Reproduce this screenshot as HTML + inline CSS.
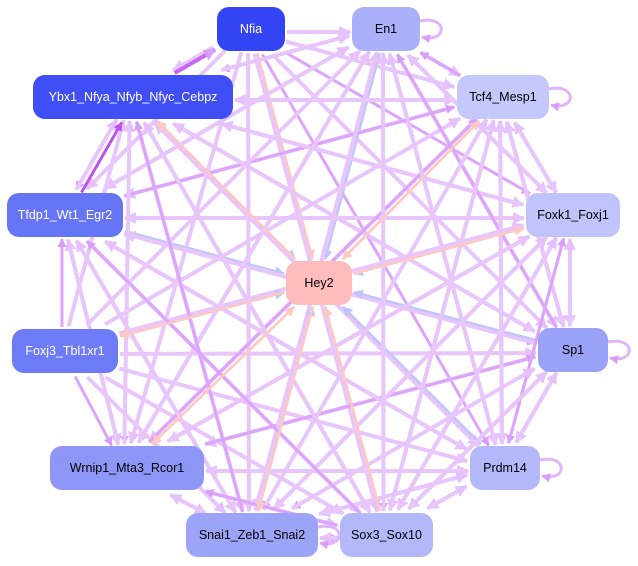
<!DOCTYPE html>
<html><head><meta charset="utf-8"><style>
html,body{margin:0;padding:0;background:#fff;width:638px;height:566px;overflow:hidden}
svg{display:block}
text{font-family:"Liberation Sans",sans-serif;font-size:12.5px;text-anchor:middle;dominant-baseline:central}
</style></head><body>
<svg id="s" width="638" height="566" xmlns="http://www.w3.org/2000/svg">
<defs>
<marker id="m1" viewBox="0 0 10 10" refX="9" refY="5" markerWidth="3" markerHeight="3" orient="auto"><path d="M0,0L10,5L0,10z" fill="#e6c2fc"/></marker>
<marker id="m2" viewBox="0 0 10 10" refX="9" refY="5" markerWidth="3" markerHeight="3" orient="auto"><path d="M0,0L10,5L0,10z" fill="#d89cfa"/></marker>
<marker id="m3" viewBox="0 0 10 10" refX="9" refY="5" markerWidth="3" markerHeight="3" orient="auto"><path d="M0,0L10,5L0,10z" fill="#c050f0"/></marker>
<marker id="m4" viewBox="0 0 10 10" refX="9" refY="5" markerWidth="4" markerHeight="4" orient="auto"><path d="M0,0L10,5L0,10z" fill="#c0c6fa"/></marker>
<marker id="m5" viewBox="0 0 10 10" refX="9" refY="5" markerWidth="4" markerHeight="4" orient="auto"><path d="M0,0L10,5L0,10z" fill="#ffc8c0"/></marker>
</defs>
<g id="edges"></g>
<g id="nodes"></g>
</svg>
<script>
var N={
Nfia:[217,7,68,44,"#3344f5","#fff"],
En1:[352,7,68,44,"#aab0fa","#000"],
Ybx1_Nfya_Nfyb_Nfyc_Cebpz:[33,75,200,44,"#3f4ef5","#fff"],
Tcf4_Mesp1:[457,75,92,44,"#c4c8fb","#000"],
Tfdp1_Wt1_Egr2:[7,193,116,44,"#6674f6","#fff"],
Foxk1_Foxj1:[526,193,94,44,"#c0c4fb","#000"],
Hey2:[286,261,66,44,"#ffbcbc","#000"],
Foxj3_Tbl1xr1:[12,329,106,44,"#6e7bf6","#fff"],
Sp1:[538,328,70,44,"#9aa2f8","#000"],
Wrnip1_Mta3_Rcor1:[50,446,154,44,"#8e97f7","#000"],
Prdm14:[470,446,70,44,"#b2b8f9","#000"],
Snai1_Zeb1_Snai2:[186,513,132,44,"#9ca4f7","#000"],
Sox3_Sox10:[340,513,93,44,"#b2b8fa","#000"]};
var names=Object.keys(N);
function c(n){var b=N[n];return [b[0]+b[2]/2,b[1]+b[3]/2];}
function clip(n,dx,dy){var b=N[n];var hw=b[2]/2+2,hh=b[3]/2+2;var t=Math.min(hw/Math.abs(dx||1e-9),hh/Math.abs(dy||1e-9));return t;}
var E=document.getElementById("edges"),NS="http://www.w3.org/2000/svg";
function edge(a,b,col,w,m,off){var p=c(a),q=c(b);var dx=q[0]-p[0],dy=q[1]-p[1];var L=Math.hypot(dx,dy);var nx=-dy/L*off,ny=dx/L*off;
var t1=clip(a,dx,dy),t2=clip(b,dx,dy);
var l=document.createElementNS(NS,"line");
l.setAttribute("x1",p[0]+dx*t1+nx);l.setAttribute("y1",p[1]+dy*t1+ny);
l.setAttribute("x2",q[0]-dx*t2+nx);l.setAttribute("y2",q[1]-dy*t2+ny);
l.setAttribute("stroke",col);l.setAttribute("stroke-width",w);l.setAttribute("marker-end","url(#"+m+")");E.appendChild(l);}
for(var i=0;i<names.length;i++)for(var j=0;j<names.length;j++){if(i==j)continue;var a=names[i],b=names[j];
if(a=="Hey2")continue;
if(b=="Hey2"){var h=(i%3==0)?["#ffc8c0","m5"]:["#c0c6fa","m4"];edge(a,b,h[0],2.5,h[1],0);continue;}
if((i*7+j*3)%7==0)continue;
var col="#e8c6fc",m="m1",w=4;
if((i+j*2)%5==0){col="#dca4fa";m="m2";w=3;}
edge(a,b,col,w,m,(i<j?3:-3));}
edge("Tfdp1_Wt1_Egr2","Ybx1_Nfya_Nfyb_Nfyc_Cebpz","#c050f0",3,"m3",3);
edge("Ybx1_Nfya_Nfyb_Nfyc_Cebpz","Nfia","#c868f2",4,"m2",0);
edge("Hey2","Tcf4_Mesp1","#ffc8c0",2.5,"m5",0);
edge("Hey2","Foxk1_Foxj1","#ffc8c0",2.5,"m5",0);
edge("Hey2","Foxj3_Tbl1xr1","#ffc8c0",2.5,"m5",0);
edge("Hey2","Wrnip1_Mta3_Rcor1","#ffc8c0",2.5,"m5",0);
edge("Hey2","Ybx1_Nfya_Nfyb_Nfyc_Cebpz","#ffc8c0",2.5,"m5",0);
edge("Hey2","Snai1_Zeb1_Snai2","#ffc8c0",2.5,"m5",0);
function loop(n){var b=N[n];var p=document.createElementNS(NS,"path");
var x=b[0]+b[2],y=b[1]+b[3]/2;var d="M"+x+","+(y-8)+" C"+(x+28)+","+(y-14)+" "+(x+28)+","+(y+14)+" "+(x+2)+","+(y+8);
p.setAttribute("d",d);p.setAttribute("fill","none");p.setAttribute("stroke","#e2b4fb");p.setAttribute("stroke-width",3);p.setAttribute("marker-end","url(#m2)");E.appendChild(p);}
["Sp1","Prdm14","Tcf4_Mesp1","En1","Snai1_Zeb1_Snai2"].forEach(loop);
var G=document.getElementById("nodes");
names.forEach(function(n){var b=N[n];var r=document.createElementNS(NS,"rect");
r.setAttribute("x",b[0]);r.setAttribute("y",b[1]);r.setAttribute("width",b[2]);r.setAttribute("height",b[3]);r.setAttribute("rx",12);r.setAttribute("fill",b[4]);G.appendChild(r);
var t=document.createElementNS(NS,"text");t.setAttribute("x",b[0]+b[2]/2);t.setAttribute("y",b[1]+b[3]/2);t.setAttribute("fill",b[5]);t.textContent=n;G.appendChild(t);});
</script>
</body></html>
